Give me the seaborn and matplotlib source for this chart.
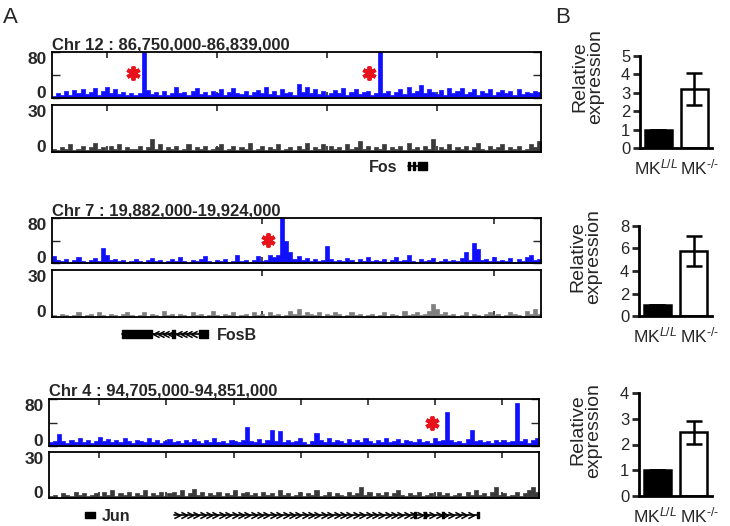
import numpy as np
import pandas as pd
import matplotlib
matplotlib.use('Agg')
import matplotlib.pyplot as plt
from matplotlib.transforms import ScaledTranslation
import seaborn as sns

# ---- panel A: read coverage, 120 bins per region ----
chr12_region = (86750000, 86839000)
chr7_region = (19882000, 19924000)
chr4_region = (94705000, 94851000)

chr12_ticks = [86760000, 86780000, 86800000, 86820000]
chr7_ticks = [19900000, 19920000]
chr4_ticks = [94720000, 94740000, 94760000, 94780000, 94800000, 94820000, 94840000]

chr12_top = [4, 9, 6, 12, 5, 14, 8, 16, 7, 11,
             18, 6, 13, 20, 9, 15, 7, 10, 5, 8,
             6, 9, 80, 14, 7, 10, 6, 12, 5, 9,
             19, 8, 11, 6, 13, 17, 7, 10, 5, 12,
             8, 15, 6, 11, 18, 9, 7, 13, 6, 10,
             14, 8, 19, 7, 12, 6, 16, 9, 11, 5,
             24, 10, 20, 8, 15, 7, 12, 6, 9, 14,
             8, 18, 6, 11, 16, 7, 10, 13, 5, 9,
             85, 8, 12, 6, 10, 15, 7, 19, 9, 13,
             22, 8, 16, 11, 7, 14, 6, 18, 9, 12,
             17, 7, 11, 15, 6, 13, 9, 16, 5, 10,
             14, 8, 12, 6, 15, 7, 11, 9, 13, 10]
chr12_bottom = [2, 1, 3, 2, 5, 1, 2, 4, 1, 3,
                6, 2, 3, 1, 4, 2, 5, 1, 3, 2,
                2, 4, 1, 3, 8, 2, 5, 1, 3, 2,
                4, 1, 2, 5, 1, 3, 2, 4, 1, 2,
                3, 5, 1, 2, 4, 1, 3, 2, 6, 1,
                2, 4, 1, 3, 2, 5, 1, 2, 3, 1,
                4, 2, 6, 1, 3, 2, 5, 1, 4, 2,
                3, 1, 5, 2, 3, 7, 2, 4, 1, 3,
                2, 5, 1, 3, 2, 4, 1, 6, 2, 3,
                1, 4, 2, 8, 1, 3, 2, 5, 1, 3,
                2, 4, 1, 3, 6, 2, 1, 4, 2, 3,
                5, 1, 3, 2, 4, 1, 2, 5, 3, 7]

chr7_top = [12, 6, 3, 8, 2, 5, 11, 4, 2, 6,
            9, 3, 27, 14, 5, 8, 3, 6, 2, 4,
            7, 3, 2, 5, 9, 3, 6, 2, 4, 8,
            3, 10, 4, 2, 6, 3, 8, 12, 4, 2,
            5, 3, 7, 2, 4, 14, 3, 6, 2, 5,
            12, 3, 6, 14, 10, 15, 85, 40, 20, 8,
            12, 5, 9, 4, 7, 3, 6, 30, 8, 4,
            6, 3, 9, 5, 2, 7, 4, 10, 3, 6,
            4, 8, 2, 5, 11, 3, 6, 14, 4, 2,
            7, 3, 5, 9, 2, 4, 8, 3, 6, 4,
            9, 20, 6, 35, 25, 5, 8, 3, 10, 4,
            6, 3, 9, 2, 7, 4, 11, 15, 5, 8]
chr7_bottom = [1, 0, 2, 1, 0, 1, 3, 0, 1, 2,
               0, 3, 1, 0, 2, 1, 0, 2, 3, 1,
               0, 1, 3, 0, 2, 1, 0, 4, 1, 2,
               0, 2, 1, 0, 3, 1, 2, 0, 1, 4,
               1, 0, 2, 1, 3, 0, 1, 2, 0, 3,
               1, 2, 0, 3, 1, 2, 0, 1, 4, 2,
               5, 1, 3, 2, 1, 3, 0, 2, 1, 3,
               2, 0, 1, 3, 1, 2, 0, 1, 2, 0,
               1, 3, 0, 2, 1, 0, 4, 1, 2, 3,
               1, 2, 4, 8, 5, 2, 3, 1, 2, 0,
               1, 3, 0, 2, 1, 0, 2, 3, 1, 2,
               0, 1, 3, 2, 1, 0, 4, 2, 5, 2]

chr4_top = [6, 9, 20, 8, 5, 11, 7, 13, 6, 10,
            5, 9, 15, 8, 12, 6, 10, 7, 14, 9,
            5, 11, 8, 6, 13, 7, 10, 5, 9, 12,
            7, 8, 5, 11, 6, 12, 8, 5, 10, 7,
            13, 6, 9, 5, 11, 8, 6, 10, 32, 9,
            7, 12, 5, 10, 27, 8, 25, 6, 11, 7,
            9, 14, 6, 4, 8, 22, 10, 7, 13, 6,
            11, 8, 5, 12, 7, 10, 6, 14, 9, 5,
            11, 7, 13, 6, 9, 12, 5, 10, 8, 6,
            12, 7, 9, 5, 14, 8, 10, 58, 11, 6,
            9, 5, 12, 27, 8, 10, 6, 9, 5, 11,
            7, 10, 6, 9, 73, 8, 12, 5, 10, 13]
chr4_bottom = [1, 2, 0, 3, 2, 1, 4, 2, 3, 1,
               2, 3, 1, 4, 2, 5, 1, 3, 2, 4,
               1, 3, 2, 5, 1, 3, 2, 4, 1, 3,
               4, 2, 5, 1, 3, 6, 2, 4, 1, 3,
               2, 4, 1, 3, 2, 5, 1, 3, 4, 2,
               3, 1, 4, 2, 3, 1, 5, 2, 3, 1,
               2, 4, 1, 3, 2, 5, 1, 2, 4, 1,
               3, 2, 1, 4, 2, 3, 7, 2, 4, 1,
               3, 2, 4, 1, 3, 5, 2, 1, 3, 2,
               4, 1, 2, 3, 1, 4, 2, 3, 1, 2,
               3, 1, 4, 2, 5, 2, 3, 1, 4, 7,
               2, 3, 1, 2, 4, 1, 3, 5, 7, 4]

# peaks marked with a red asterisk (position, height)
chr12_stars = [(86764700, 43), (86807700, 43)]
chr7_stars = [(19900550, 41)]
chr4_stars = [(94819100, 39)]

# gene models: exons (start, end)
fos_exons = [(86814800, 86815150), (86815650, 86816000), (86816550, 86818250)]
fosb_exons = [(19888000, 19890590), (19892300, 19892570), (19894630, 19895400)]
jun_exons = [(94715730, 94718700)]
nbr_exons = [(94813800, 94814400), (94816800, 94817300), (94822100, 94822700), (94832500, 94833100)]
nbr_span = (94742200, 94832800)

# ---- panel B: qPCR ----
genotypes = ['MK$^{\\mathit{L/L}}$', 'MK$^{\\text{-/-}}$']
fos_expr = [1.0, 3.2]
fos_sem = [0.0, 0.87]
fosb_expr = [1.0, 5.8]
fosb_sem = [0.0, 1.35]
jun_expr = [1.0, 2.47]
jun_sem = [0.0, 0.45]

sns.set_style('white')
plt.rcParams['font.family'] = ['Liberation Sans', 'DejaVu Sans']
plt.rcParams['mathtext.fontset'] = 'custom'
plt.rcParams['mathtext.rm'] = 'Liberation Sans'
plt.rcParams['mathtext.it'] = 'Liberation Sans:italic'
plt.rcParams['mathtext.bf'] = 'Liberation Sans:bold'

W, H = 730, 526
fig = plt.figure(figsize=(W / 100, H / 100), dpi=100)


def box(x0, y0, x1, y1):
    return fig.add_axes([x0 / W, 1 - y1 / H, (x1 - x0) / W, (y1 - y0) / H])


def coverage(ax, region, vals, color, ymax, ticks, mid):
    edges = np.linspace(region[0], region[1], len(vals) + 1)
    df = pd.DataFrame({'pos': (edges[:-1] + edges[1:]) / 2, 'cov': vals})
    sns.histplot(data=df, x='pos', weights='cov', bins=list(edges), element='step',
                 fill=True, color=color, alpha=1, linewidth=0.5, ax=ax)
    ax.set_xlim(region)
    ax.set_ylim(0, ymax)
    ax.set_xlabel('')
    ax.set_ylabel('')
    ax.set_xticks(ticks)
    ax.tick_params(axis='x', direction='in', top=True, bottom=True, length=4,
                   width=1.2, labelbottom=False)
    if mid:
        ax.set_yticks([0, ymax / 2, ymax])
        ax.set_yticklabels(['0', '', str(ymax)])
        ax.tick_params(axis='y', direction='in', left=True, right=True, length=6, width=1)
    else:
        ax.set_yticks([0, ymax])
        ax.set_yticklabels(['0', str(ymax)])
        ax.tick_params(axis='y', direction='in', left=True, length=0)
    ax.tick_params(axis='y', pad=4, labelsize=12.5)
    labs = ax.get_yticklabels()
    for lab in labs:
        lab.set_fontweight('bold')
    labs[0].set_verticalalignment('baseline')
    labs[-1].set_verticalalignment('top')
    for s in ax.spines.values():
        s.set_linewidth(1.3)
        s.set_color('black')


def stars(ax, pts):
    for x, y in pts:
        ax.plot(x, y, marker=(6, 2, 0), ms=10, mew=2.8, color='#e8121b')


def gene_axes(ax, region):
    ax.set_xlim(region)
    ax.set_ylim(-1, 1)
    ax.axis('off')


chev_r = [(-1, 1), (1, 0), (-1, -1)]
chev_l = [(1, 1), (-1, 0), (1, -1)]

tracks = [
    (chr12_region, chr12_top, chr12_bottom, chr12_ticks, chr12_stars,
     'Chr 12 : 86,750,000-86,839,000', (52, 52, 541, 98), (52, 105, 541, 152), (52, 154, 541, 178), '#3a3a3a'),
    (chr7_region, chr7_top, chr7_bottom, chr7_ticks, chr7_stars,
     'Chr 7 : 19,882,000-19,924,000', (52, 218, 541, 263), (52, 270, 541, 317), (52, 322, 541, 346), '#7f7f7f'),
    (chr4_region, chr4_top, chr4_bottom, chr4_ticks, chr4_stars,
     'Chr 4 : 94,705,000-94,851,000', (49, 399, 539, 446), (49, 452, 539, 498), (49, 504, 539, 526), '#3a3a3a'),
]

gene_axs = []
for region, top, bottom, ticks, pts, title, r1, r2, r3, grey in tracks:
    a1 = box(*r1)
    coverage(a1, region, top, '#1010ff', 80, ticks, True)
    stars(a1, pts)
    a1.set_title(title, loc='left', fontsize=12, fontweight='bold', pad=2)
    a2 = box(*r2)
    coverage(a2, region, bottom, grey, 30, ticks, False)
    a3 = box(*r3)
    gene_axes(a3, region)
    gene_axs.append(a3)

# Fos
g = gene_axs[0]
g.plot([fos_exons[0][0], fos_exons[-1][1]], [0, 0], color='black', lw=1.2)
g.broken_barh([(s, e - s) for s, e in fos_exons], (-0.3, 0.6), color='black')
g.text(86812900, 0, 'Fos', ha='right', va='center_baseline', fontsize=11.5, fontweight='bold')

# FosB (minus strand)
g = gene_axs[1]
g.plot([fosb_exons[0][0], fosb_exons[-1][1]], [0, 0], color='black', lw=1.2)
g.broken_barh([(s, e - s) for s, e in fosb_exons], (-0.3, 0.6), color='black')
for a, b in [(fosb_exons[0][1], fosb_exons[1][0]), (fosb_exons[1][1], fosb_exons[2][0])]:
    xs = np.arange(a + 300, b - 100, 430)
    g.plot(xs, np.zeros_like(xs), ls='none', marker=chev_l, ms=4.5, mew=1.1,
           mfc='none', mec='black')
g.text(19896170, 0, 'FosB', ha='left', va='center_baseline', fontsize=11.5, fontweight='bold')

# Jun and neighbouring transcript (plus strand)
g = gene_axs[2]
g.broken_barh([(s, e - s) for s, e in jun_exons], (-0.3, 0.6), color='black')
g.text(94720800, 0, 'Jun', ha='left', va='center_baseline', fontsize=11.5, fontweight='bold')
g.plot(nbr_span, [0, 0], color='black', lw=1.2)
g.broken_barh([(s, e - s) for s, e in nbr_exons], (-0.3, 0.6), color='black')
xs = np.arange(nbr_span[0] + 1000, nbr_span[1] - 500, 1900)
g.plot(xs, np.zeros_like(xs), ls='none', marker=chev_r, ms=4.5, mew=1.1,
       mfc='none', mec='black')

# ---- panel B ----
bars = [
    (fos_expr, fos_sem, 5, (640, 56, 712, 148), 0.78),
    (fosb_expr, fosb_sem, 8, (639, 226, 712, 316), 0.66),
    (jun_expr, jun_sem, 4, (639, 393, 712, 496), 0.64),
]
for vals, sem, ymax, r, lab_y in bars:
    ax = box(*r)
    sns.barplot(x=genotypes, y=vals, hue=genotypes, palette=['black', 'white'],
                edgecolor='black', linewidth=1.8, width=0.75, legend=False, ax=ax)
    ax.errorbar([0, 1], vals, yerr=sem, fmt='none', ecolor='black',
                elinewidth=1.8, capsize=6, capthick=1.8)
    ax.set_xlim(-0.5, 1.5)
    ax.set_ylim(0, ymax)
    ax.set_yticks(range(0, ymax + 1, 1 if ymax <= 5 else 2))
    sns.despine(ax=ax)
    for s in ['left', 'bottom']:
        ax.spines[s].set_linewidth(2)
        ax.spines[s].set_color('black')
    ax.tick_params(axis='y', left=True, length=5, width=2, labelsize=12, pad=2)
    ax.tick_params(axis='x', bottom=False, labelsize=12.5, pad=3)
    xl = ax.get_xticklabels()
    xl[0].set_transform(xl[0].get_transform() + ScaledTranslation(-0.02, 0, fig.dpi_scale_trans))
    xl[1].set_transform(xl[1].get_transform() + ScaledTranslation(0.06, 0, fig.dpi_scale_trans))
    ax.set_ylabel('Relative\nexpression', fontsize=14, linespacing=0.9)
    ax.yaxis.set_label_coords(-0.5, lab_y)

fig.text(3 / W, 1 - 23 / H, 'A', fontsize=16, va='baseline')
fig.text(555 / W, 1 - 23 / H, 'B', fontsize=16, va='baseline')

fig.savefig('out.png', dpi=100)
